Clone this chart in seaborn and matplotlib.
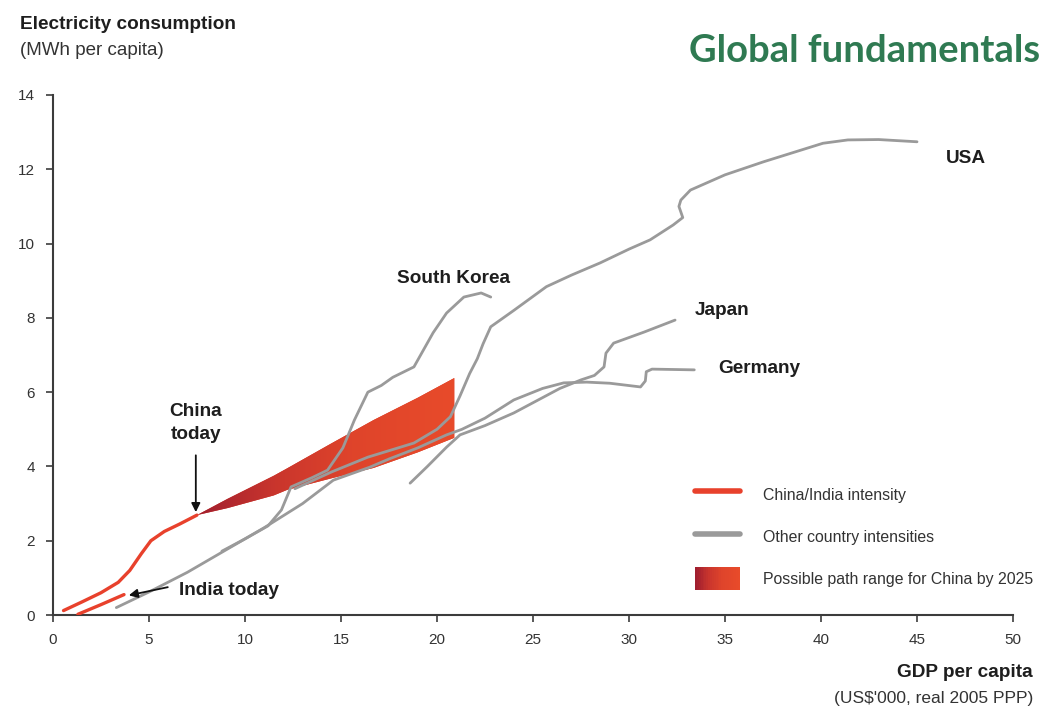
import numpy as np
import pandas as pd
import matplotlib
matplotlib.use("Agg")
import matplotlib.pyplot as plt
import seaborn as sns
from matplotlib.colors import LinearSegmentedColormap
from matplotlib.lines import Line2D
from matplotlib.patches import Rectangle
from matplotlib.legend_handler import HandlerBase

# ---------------- data ----------------
china_x = [0.55, 1.5, 2.5, 3.4, 4.0, 4.6, 5.1, 5.8, 6.6, 7.5]
china_y = [0.12, 0.35, 0.6, 0.88, 1.2, 1.65, 2.0, 2.25, 2.45, 2.69]

india_x = [1.3, 2.5, 3.7]
india_y = [0.02, 0.28, 0.55]

fan_x = [7.5, 9.1, 11.5, 12.2, 14.5, 16.7, 19.0, 20.9]
fan_lower = [2.69, 2.88, 3.22, 3.37, 3.68, 3.96, 4.38, 4.77]
fan_upper = [2.69, 3.13, 3.75, 3.95, 4.62, 5.25, 5.85, 6.38]

usa_x = [12.6, 14.5, 16.4, 18.8, 20.0, 20.7, 21.2, 21.7, 22.1, 22.4, 22.8, 24.0,
         25.7, 27.0, 28.5, 30.0, 31.1, 32.3, 32.8, 32.6, 32.7, 33.2, 35.0, 37.0,
         40.1, 41.4, 43.0, 45.0]
usa_y = [3.4, 3.85, 4.25, 4.63, 5.0, 5.34, 5.9, 6.5, 6.9, 7.3, 7.76, 8.2,
         8.84, 9.15, 9.48, 9.85, 10.1, 10.5, 10.7, 11.0, 11.17, 11.44, 11.85, 12.2,
         12.7, 12.79, 12.8, 12.74]

korea_x = [8.8, 10.0, 11.2, 11.9, 12.4, 13.5, 14.3, 15.1, 15.7, 16.4, 17.1, 17.7,
           18.8, 19.8, 20.5, 21.4, 22.3, 22.8]
korea_y = [1.72, 2.05, 2.4, 2.83, 3.45, 3.7, 3.9, 4.5, 5.25, 6.0, 6.18, 6.4,
           6.68, 7.6, 8.13, 8.56, 8.67, 8.56]

germany_x = [3.3, 5.0, 7.0, 8.9, 11.0, 13.0, 14.6, 16.5, 17.5, 19.0, 20.5, 21.3,
             22.5, 24.0, 25.5, 26.6, 27.8, 29.0, 30.6, 30.85, 30.9, 31.2, 33.4]
germany_y = [0.2, 0.62, 1.15, 1.72, 2.35, 3.0, 3.63, 3.98, 4.2, 4.5, 4.85, 5.0,
             5.3, 5.79, 6.1, 6.25, 6.27, 6.24, 6.14, 6.3, 6.55, 6.62, 6.6]

japan_x = [18.6, 19.5, 20.5, 21.2, 22.5, 24.0, 26.4, 27.5, 28.2, 28.7, 28.8, 29.2,
           30.8, 32.4]
japan_y = [3.55, 4.0, 4.52, 4.85, 5.1, 5.44, 6.1, 6.33, 6.45, 6.68, 7.05, 7.32,
           7.62, 7.94]

x_ticks = [0, 5, 10, 15, 20, 25, 30, 35, 40, 45, 50]
y_ticks = [0, 2, 4, 6, 8, 10, 12, 14]

legend_labels = ["China/India intensity", "Other country intensities",
                 "Possible path range for China by 2025"]

# ---------------- styling ----------------
RED = "#e8412c"
GRAY = "#9a9a9a"
TXT = "#1e1e1e"
fan_cmap = LinearSegmentedColormap.from_list(
    "fan", [(0.0, "#a01f2f"), (0.3, "#c9352d"), (0.6, "#df442b"), (1.0, "#e84b2a")])

sns.set_theme(style="white")
plt.rcParams["font.family"] = ["Liberation Sans", "DejaVu Sans"]

fig = plt.figure(figsize=(10.57, 7.13), dpi=100)
ax = fig.add_axes([0.0501, 0.1374, 0.9083, 0.7294])

# other countries (gray)
frames = []
for name, xs, ys in [("USA", usa_x, usa_y), ("South Korea", korea_x, korea_y),
                     ("Germany", germany_x, germany_y), ("Japan", japan_x, japan_y)]:
    frames.append(pd.DataFrame({"gdp": xs, "elec": ys, "country": name,
                                "order": range(len(xs))}))
others = pd.concat(frames, ignore_index=True)
sns.lineplot(data=others, x="gdp", y="elec", units="country", estimator=None,
             sort=False, color=GRAY, lw=2.0, ax=ax, zorder=3,
             solid_joinstyle="round", solid_capstyle="round")

# China / India (red)
cn = pd.DataFrame({"gdp": china_x + india_x,
                   "elec": china_y + india_y,
                   "country": ["China"] * len(china_x) + ["India"] * len(india_x)})
sns.lineplot(data=cn, x="gdp", y="elec", units="country", estimator=None,
             sort=False, color=RED, lw=2.4, ax=ax, zorder=4,
             solid_joinstyle="round")

# possible path range (gradient fill)
poly = ax.fill_between(fan_x, fan_lower, fan_upper, facecolor="#d63c2c",
                       edgecolor="none", zorder=2)
grad = np.linspace(0, 1, 256).reshape(1, -1)
im = ax.imshow(grad, extent=[min(fan_x), max(fan_x), min(fan_lower), max(fan_upper)],
               cmap=fan_cmap, aspect="auto", origin="lower", zorder=2.1,
               interpolation="bilinear")
im.set_clip_path(poly.get_paths()[0], ax.transData)

# axes
ax.set_xlim(0, 50)
ax.set_ylim(0, 14)
ax.set_xticks(x_ticks)
ax.set_yticks(y_ticks)
ax.set_xlabel("")
ax.set_ylabel("")
for s in ["top", "right"]:
    ax.spines[s].set_visible(False)
for s in ["left", "bottom"]:
    ax.spines[s].set_color("#3c3c3c")
    ax.spines[s].set_linewidth(1.5)
ax.tick_params(axis="both", which="major", direction="out", length=5, width=1.2,
               color="#3c3c3c", labelsize=11, labelcolor="#333333",
               left=True, bottom=True)
ax.tick_params(axis="x", pad=8)
ax.tick_params(axis="y", pad=8)
ax.grid(False)

# country labels
lab_kw = dict(fontsize=13.7, fontweight="bold", color=TXT)
ax.text(46.5, 12.3, "USA", ha="left", va="center", **lab_kw)
ax.text(17.9, 9.05, "South Korea", ha="left", va="center", **lab_kw)
ax.text(33.45, 8.2, "Japan", ha="left", va="center", **lab_kw)
ax.text(34.65, 6.65, "Germany", ha="left", va="center", **lab_kw)
ax.text(7.44, 5.17, "China\ntoday", ha="center", va="center", linespacing=1.45, **lab_kw)
ax.text(6.56, 0.67, "India today", ha="left", va="center", **lab_kw)

arrow_kw = dict(arrowstyle="-|>", color="#111111", lw=1.3, mutation_scale=13,
                shrinkA=0, shrinkB=0)
ax.annotate("", xy=(china_x[-1] - 0.06, china_y[-1] + 0.08), xytext=(7.44, 4.3),
            arrowprops=arrow_kw, zorder=6)
ax.annotate("", xy=(india_x[-1] + 0.25, india_y[-1] - 0.02), xytext=(5.98, 0.75),
            arrowprops=arrow_kw, zorder=6)

# axis titles and headline
fig.text(20 / 1057, 1 - 29 / 713, "Electricity consumption", fontsize=13.7,
         fontweight="bold", color=TXT, ha="left", va="baseline")
fig.text(20 / 1057, 1 - 55 / 713, "(MWh per capita)", fontsize=13.5,
         color="#333333", ha="left", va="baseline")
fig.text(1033 / 1057, 1 - 677 / 713, "GDP per capita", fontsize=13.7,
         fontweight="bold", color=TXT, ha="right", va="baseline")
fig.text(1033 / 1057, 1 - 703 / 713, "(US$'000, real 2005 PPP)", fontsize=12.5,
         color="#333333", ha="right", va="baseline")
fig.text(1040 / 1057, 1 - 62 / 713, "Global fundamentals", fontsize=27.5,
         fontweight="bold", color="#2f7a52", ha="right", va="baseline",
         family=["Lato", "DejaVu Sans"])


# legend with gradient swatch
class GradientHandler(HandlerBase):
    def create_artists(self, legend, orig_handle, xdescent, ydescent, width,
                       height, fontsize, trans):
        n = 24
        arts = []
        for i in range(n):
            r = Rectangle((-xdescent + width * i / n, -ydescent), width / n * 1.08,
                          height, facecolor=fan_cmap(i / (n - 1)), edgecolor="none",
                          transform=trans)
            arts.append(r)
        return arts


fan_proxy = Rectangle((0, 0), 1, 1)
handles = [Line2D([], [], color=RED, lw=4), Line2D([], [], color=GRAY, lw=4), fan_proxy]
leg = ax.legend(handles, legend_labels, handler_map={fan_proxy: GradientHandler()},
                loc="upper left", bbox_to_anchor=(695 / 1057, 1 - 483 / 713),
                bbox_transform=fig.transFigure, frameon=False, fontsize=11.4,
                handlelength=2.85, handleheight=1.85, handletextpad=1.45,
                labelspacing=1.22, borderpad=0, borderaxespad=0)
for t in leg.get_texts():
    t.set_color("#333333")

fig.savefig("out.png", dpi=100, facecolor="white")
